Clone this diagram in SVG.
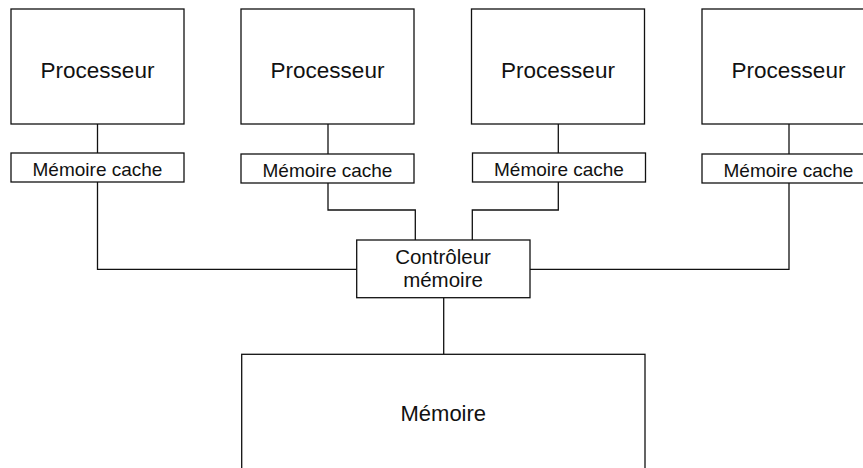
<svg xmlns="http://www.w3.org/2000/svg" width="863" height="468" viewBox="0 0 863 468">
<style>
.box{fill:#fff;stroke:#111;stroke-width:1.3}
.ln{fill:none;stroke:#111;stroke-width:1.3}
text{font-family:"Liberation Sans",Arial,sans-serif;fill:#111;text-anchor:middle}
.p{font-size:22.5px}
.c{font-size:19px}
.k{font-size:22px}
.t{font-size:20.5px}
</style>
<rect width="863" height="468" fill="#fff"/>
<g id="connectors">
<path class="ln" d="M97.5 124V153"/>
<path class="ln" d="M97.5 182V269.3H356.7"/>
<path class="ln" d="M328 124V154"/>
<path class="ln" d="M328 183V210H415.3V240"/>
<path class="ln" d="M558.3 124V153"/>
<path class="ln" d="M558.3 182V210H472.3V240"/>
<path class="ln" d="M789 124V154"/>
<path class="ln" d="M789 183V269.3H530"/>
<path class="ln" d="M443.7 297.7V354.3"/>
</g>
<g id="proc1"><rect class="box" x="11" y="9" width="173" height="115"/><text class="p" x="97.5" y="77.5">Processeur</text></g>
<g id="proc2"><rect class="box" x="241" y="9" width="173" height="115"/><text class="p" x="327.5" y="77.5">Processeur</text></g>
<g id="proc3"><rect class="box" x="471.5" y="9" width="173" height="115"/><text class="p" x="558" y="77.5">Processeur</text></g>
<g id="proc4"><rect class="box" x="702" y="9" width="173" height="115"/><text class="p" x="788.5" y="77.5">Processeur</text></g>
<g id="cache1"><rect class="box" x="11" y="153" width="173" height="29"/><text class="c" x="97.5" y="176">Mémoire cache</text></g>
<g id="cache2"><rect class="box" x="241" y="154" width="173" height="29"/><text class="c" x="327.5" y="177">Mémoire cache</text></g>
<g id="cache3"><rect class="box" x="472.5" y="153" width="173" height="29"/><text class="c" x="559" y="176">Mémoire cache</text></g>
<g id="cache4"><rect class="box" x="702" y="154" width="173" height="29"/><text class="c" x="788.5" y="177">Mémoire cache</text></g>
<g id="controller"><rect class="box" x="356.7" y="240" width="173.3" height="57.7"/><text class="t" x="443" y="263.8">Contrôleur</text><text class="t" x="443" y="287.4">mémoire</text></g>
<g id="memory"><rect class="box" x="241.7" y="354.3" width="403.3" height="200"/><text class="k" x="443.3" y="421">Mémoire</text></g>
</svg>
